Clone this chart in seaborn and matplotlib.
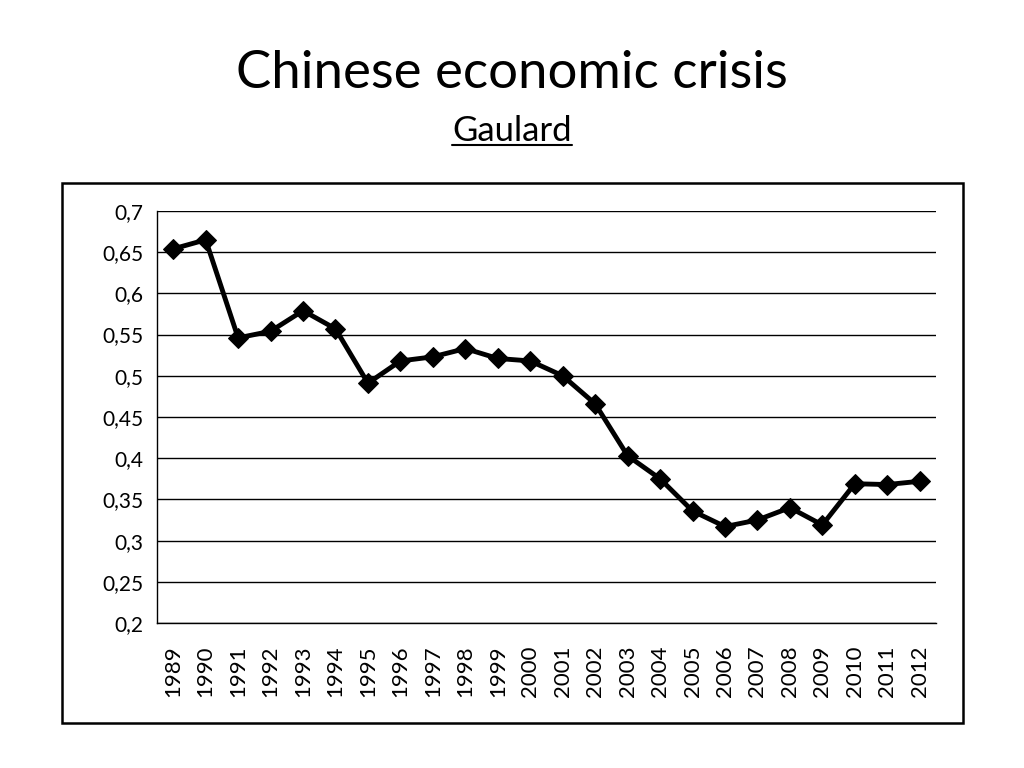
import matplotlib
matplotlib.use('Agg')
import matplotlib.pyplot as plt
import matplotlib.ticker as mticker
from matplotlib.patches import Rectangle
from matplotlib.lines import Line2D
import seaborn as sns
import pandas as pd
import numpy as np

# data
years = [str(y) for y in range(1989, 2013)]
values = [0.654, 0.665, 0.546, 0.554, 0.579, 0.557, 0.491, 0.518, 0.523,
          0.533, 0.521, 0.518, 0.500, 0.466, 0.403, 0.375, 0.336, 0.317,
          0.325, 0.340, 0.319, 0.369, 0.368, 0.372]
y_ticks = [0.2, 0.25, 0.3, 0.35, 0.4, 0.45, 0.5, 0.55, 0.6, 0.65, 0.7]

sns.set_style('white')
plt.rcParams['font.family'] = ['Lato', 'DejaVu Sans']
plt.rcParams['text.color'] = 'black'
plt.rcParams['xtick.color'] = 'black'
plt.rcParams['ytick.color'] = 'black'

df = pd.DataFrame({'year': years, 'value': values})

fig = plt.figure(figsize=(10.24, 7.68), dpi=100)
fig.patch.set_facecolor('white')

# frame around the chart
fig.add_artist(Rectangle((0.0605, 0.0586), 0.880, 0.703, transform=fig.transFigure,
                         fill=False, edgecolor='black', linewidth=1.8))

ax = fig.add_axes([0.1533, 0.1888, 0.7607, 0.5365])
sns.lineplot(data=df, x='year', y='value', ax=ax, color='black', linewidth=3.5,
             marker='D', markersize=10, markeredgecolor='black', sort=False)

ax.set_xlim(-0.5, len(years) - 0.5)
ax.set_ylim(0.2, 0.7)
ax.set_yticks(y_ticks)
ax.yaxis.set_major_formatter(mticker.FuncFormatter(lambda v, p: f"{v:g}".replace('.', ',')))
ax.grid(axis='y', color='black', linewidth=1.0)
ax.set_axisbelow(True)

ax.set_xticks(range(len(years)))
ax.set_xticklabels(years, rotation=90)
ax.set_xticks(np.arange(-0.5, len(years), 1.0), minor=True)
ax.tick_params(axis='x', which='major', length=0, pad=16, labelsize=16, labelcolor='black')
ax.tick_params(axis='x', which='minor', length=6, width=1, color='black', direction='out')
ax.tick_params(axis='y', length=6, width=1, color='black', direction='out', labelsize=15,
               pad=4, labelcolor='black')
ax.set_xlabel('')
ax.set_ylabel('')

for s in ['top', 'right']:
    ax.spines[s].set_visible(False)
for s in ['left', 'bottom']:
    ax.spines[s].set_color('black')
    ax.spines[s].set_linewidth(1.0)

fig.text(0.5, 0.904, 'Chinese economic crisis', ha='center', va='center', fontsize=38, color='black')
sub = fig.text(0.5, 0.830, 'Gaulard', ha='center', va='center', fontsize=25, color='black')

# underline subtitle
fig.canvas.draw()
bb = sub.get_window_extent().transformed(fig.transFigure.inverted())
fig.add_artist(Line2D([bb.x0, bb.x1], [bb.y0 + 0.002, bb.y0 + 0.002],
                      transform=fig.transFigure, color='black', linewidth=1.5))

fig.savefig('out.png', dpi=100)
